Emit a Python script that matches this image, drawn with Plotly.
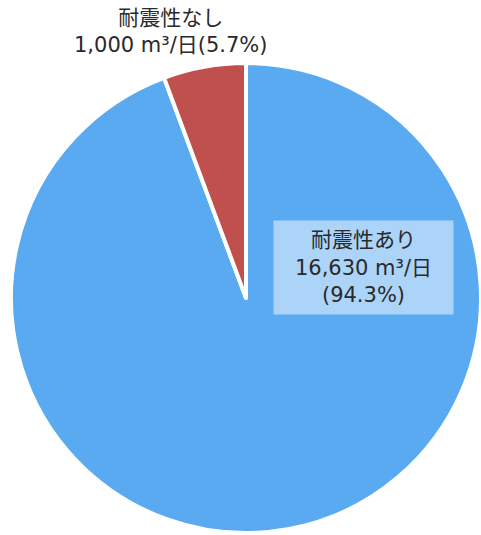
import plotly.graph_objects as go

# Daily capacity by seismic resistance status (m³/日)
labels = ["耐震性あり", "耐震性なし"]
values = [16630, 1000]
colors = ["#5aaaf2", "#c0504d"]

total = sum(values)
pcts = [v / total * 100 for v in values]

W, H = 481, 535
FONT = "DejaVu Sans, Noto Sans CJK JP"

fig = go.Figure(
    go.Pie(
        labels=labels,
        values=values,
        sort=False,
        direction="clockwise",
        rotation=0,
        marker=dict(colors=colors, line=dict(color="white", width=4)),
        textinfo="none",
        hoverinfo="label+value+percent",
        showlegend=False,
        domain=dict(x=[11 / W, 1.0], y=[2 / H, 472 / H]),
    )
)

# Label above the small slice
fig.add_annotation(
    x=170 / W, y=1 - 31 / H, xref="paper", yref="paper",
    xanchor="center", yanchor="middle",
    text=f"{labels[1]}<br>{values[1]:,} m³/日({pcts[1]:.1f}%)",
    showarrow=False, align="center",
    font=dict(family=FONT, size=21, color="#2a2a2a"),
)

# Boxed label inside the large slice
fig.add_annotation(
    x=363 / W, y=1 - 267 / H, xref="paper", yref="paper",
    xanchor="center", yanchor="middle",
    text=f"{labels[0]}<br>{values[0]:,} m³/日<br>({pcts[0]:.1f}%)",
    showarrow=False, align="center",
    width=175, height=89, borderpad=2,
    bgcolor="#acd4f8",
    font=dict(family=FONT, size=21, color="#2a2a2a"),
)

fig.update_layout(
    width=W, height=H,
    margin=dict(l=0, r=0, t=0, b=0),
    paper_bgcolor="white",
    plot_bgcolor="white",
)

fig.write_html("out.html")
